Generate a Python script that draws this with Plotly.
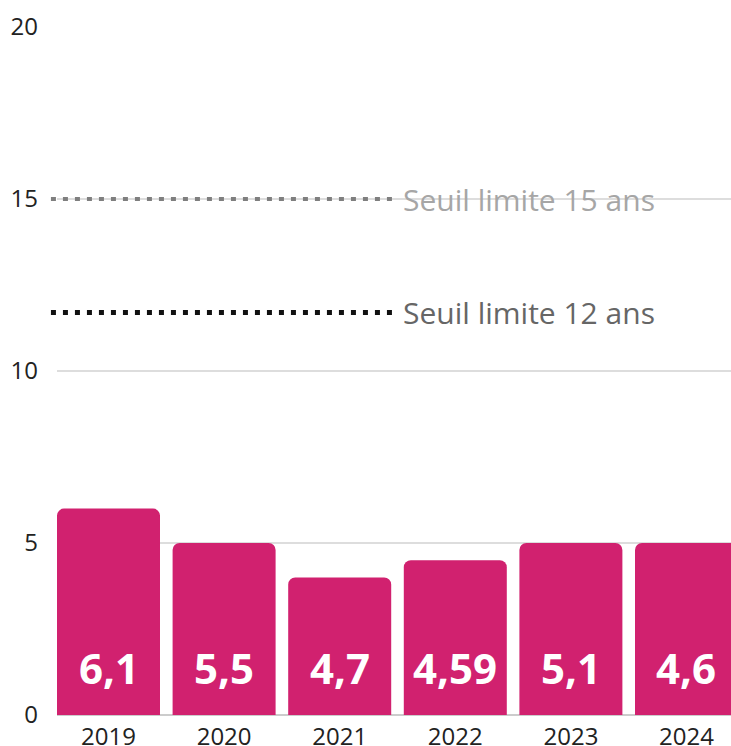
import plotly.graph_objects as go

# Data
years = ["2019", "2020", "2021", "2022", "2023", "2024"]
bar_heights = [6, 5, 4, 4.5, 5, 5]
bar_labels = ["6,1", "5,5", "4,7", "4,59", "5,1", "4,6"]
threshold_values = [15, 11.7]
threshold_labels = ["Seuil limite 15 ans", "Seuil limite 12 ans"]
y_ticks = [0, 5, 10, 15, 20]

BAR_COLOR = "#D1216F"
FONT = "Open Sans"

fig = go.Figure()
fig.add_trace(go.Bar(
    x=years, y=bar_heights,
    marker=dict(color=BAR_COLOR, line=dict(width=0)),
    hoverinfo="skip",
))

# Value labels inside bars (near the base)
for i, lab in enumerate(bar_labels):
    fig.add_annotation(
        x=i, y=0, xref="x", yref="y", text=lab, showarrow=False,
        yanchor="middle", yshift=48,
        font=dict(family=FONT, size=42, color="white", weight="bold"),
    )

# Threshold lines
line_styles = [
    dict(color="#7f7f7f", width=4, dash="5px,7px"),
    dict(color="#111111", width=5, dash="5px,7px"),
]
text_colors = ["#a6a6a6", "#666666"]
for val, lab, ls, tc in zip(threshold_values, threshold_labels, line_styles, text_colors):
    fig.add_shape(type="line", xref="paper", yref="y", x0=-0.009, x1=0.497,
                  y0=val, y1=val, line=ls, layer="above")
    fig.add_annotation(
        x=0.51, xref="paper", y=val, yref="y", text=lab, showarrow=False,
        xanchor="left", yanchor="middle",
        font=dict(family=FONT, size=30, color=tc),
    )

fig.update_layout(
    width=731, height=746,
    margin=dict(l=57, r=0, t=27, b=31),
    plot_bgcolor="white", paper_bgcolor="white",
    showlegend=False,
    bargap=0.109,
    barcornerradius=7,
    font=dict(family=FONT, size=24, color="#222222"),
)
fig.update_xaxes(
    type="category", range=[-0.4455, 5.385],
    showgrid=False, showline=False, ticks="",
    tickfont=dict(family=FONT, size=24, color="#222222"),
    ticklabelstandoff=5, automargin=False,
)
fig.update_yaxes(
    range=[0, 20], tickvals=y_ticks, ticktext=[str(v) for v in y_ticks],
    showgrid=True, gridcolor="#dddddd", gridwidth=1.5,
    zeroline=True, zerolinecolor="#cccccc", zerolinewidth=1.5,
    showline=False, ticks="",
    tickfont=dict(family=FONT, size=24, color="#222222"),
    ticklabelstandoff=18, automargin=False,
)

fig.write_html(
    "out.html",
    config={"displayModeBar": False},
    post_script="document.body.style.margin='0';document.body.style.overflow='hidden';",
)
